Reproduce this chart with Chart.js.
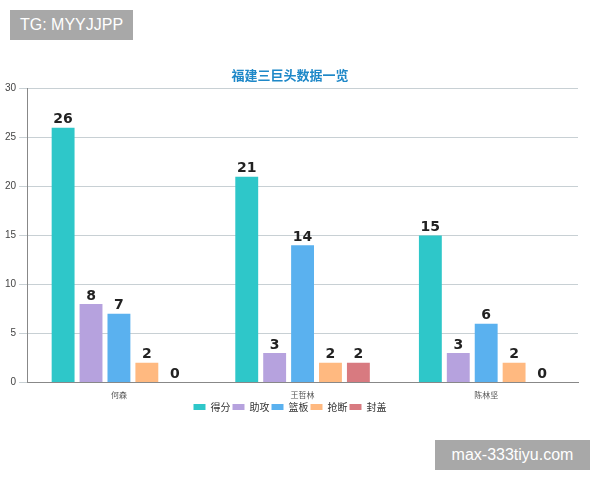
<!DOCTYPE html>
<html>
<head>
<meta charset="utf-8">
<script src="https://cdn.jsdelivr.net/npm/chart.js@4"></script>
<style>
  body { margin: 0; background: #fff; font-family: "Noto Sans CJK SC", sans-serif; }
  #wrap { position: relative; width: 600px; height: 480px; }
  .tag { position: absolute; background: #a8a8a8; color: #fff; font-family: "Liberation Sans", sans-serif; font-size: 16px; line-height: 30px; padding: 0 10px; white-space: nowrap; }
</style>
</head>
<body>
<div id="wrap">
  <canvas id="chart" width="600" height="480"></canvas>
  <div class="tag" style="left:10px;top:10px;">TG: MYYJJPP</div>
  <div class="tag" style="left:435px;top:440px;width:135px;text-align:center;">max-333tiyu.com</div>
</div>
<script>
// data
const players = ["何森", "王哲林", "陈林坚"];
const seriesNames = ["得分", "助攻", "篮板", "抢断", "封盖"];
const points = [26, 21, 15];
const assists = [8, 3, 3];
const rebounds = [7, 14, 6];
const steals = [2, 2, 2];
const blocks = [0, 2, 0];
const colors = ["#2ec7c9", "#b6a2de", "#5ab1ef", "#ffb980", "#d87a80"];
const yTicks = [0, 5, 10, 15, 20, 25, 30];

const allData = [points, assists, rebounds, steals, blocks];

// value labels above each bar
const valueLabels = {
    id: "valueLabels",
    afterDatasetsDraw(chart) {
        const ctx = chart.ctx;
        ctx.save();
        ctx.font = "bold 14px 'DejaVu Sans'";
        ctx.fillStyle = "#222";
        ctx.textAlign = "center";
        ctx.textBaseline = "bottom";
        chart.data.datasets.forEach((ds, i) => {
            chart.getDatasetMeta(i).data.forEach((bar, j) => {
                ctx.fillText(ds.data[j], bar.x, bar.y - 1);
            });
        });
        ctx.restore();
    }
};

new Chart(document.getElementById("chart"), {
    type: "bar",
    data: {
        labels: players,
        datasets: seriesNames.map((name, i) => ({
            label: name,
            data: allData[i],
            backgroundColor: colors[i],
            categoryPercentage: 0.76,
            barPercentage: 0.82
        }))
    },
    options: {
        responsive: false,
        animation: false,
        layout: { padding: { top: 67, left: 2, right: 22, bottom: 58 } },
        plugins: {
            title: {
                display: true,
                text: "福建三巨头数据一览",
                color: "#1e88c8",
                font: { size: 13, weight: "bold", family: "Noto Sans CJK SC" },
                padding: { top: 0, bottom: 6 }
            },
            legend: {
                position: "bottom",
                labels: { boxWidth: 12, boxHeight: 6, padding: 2, font: { size: 10, family: "Noto Sans CJK SC" }, color: "#333" }
            },
            tooltip: { enabled: false }
        },
        scales: {
            x: {
                grid: { display: false },
                border: { color: "#888" },
                ticks: { padding: 0, font: { size: 8, family: "Noto Sans CJK SC" }, color: "#555" }
            },
            y: {
                min: 0, max: 30,
                afterBuildTicks(axis) { axis.ticks = yTicks.map(v => ({ value: v })); },
                grid: { color: "#c8d0d4" },
                border: { color: "#888" },
                ticks: { font: { size: 10 }, color: "#444" }
            }
        }
    },
    plugins: [valueLabels]
});
</script>
</body>
</html>
